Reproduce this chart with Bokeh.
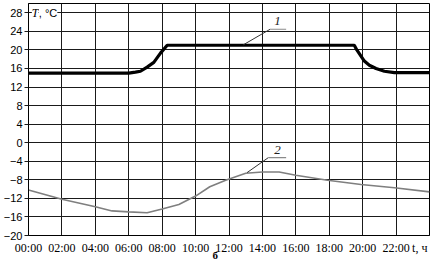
from bokeh.plotting import figure
from bokeh.models import FixedTicker, Label, Range1d
from bokeh.embed import file_html
from bokeh.resources import INLINE

# ---- data ----
hours1 = [0, 6.0, 6.4, 6.7, 7.1, 7.5, 7.9, 8.3, 19.5, 19.65, 19.8, 20.1, 20.4, 20.8, 21.3, 21.9, 24]
temp1 = [15, 15, 15.2, 15.4, 16.3, 17.3, 19.3, 21, 21, 20, 19.2, 17.6, 16.7, 16, 15.4, 15.1, 15.1]

hours2 = [0, 2, 4, 5, 6, 7.1, 8, 9, 10, 10.85, 11.8, 13, 14, 15, 16, 17.9, 19.9, 21.9, 24]
temp2 = [-10.2, -12.2, -13.8, -14.7, -14.9, -15.1, -14.3, -13.3, -11.5, -9.5, -8.1, -6.6,
         -6.3, -6.3, -7.0, -8.1, -9.0, -9.7, -10.6]

x_ticks = [0, 2, 4, 6, 8, 10, 12, 14, 16, 18, 20, 22]
x_tick_labels = ["00:00", "02:00", "04:00", "06:00", "08:00", "10:00", "12:00",
                 "14:00", "16:00", "18:00", "20:00", "22:00"]
x_unit_pos = 23.42
x_unit_label = "t, ч"
y_ticks = [-20, -16, -12, -8, -4, 0, 4, 8, 12, 16, 20, 24, 28]
y_unit_label = ", °C"
panel_letter = "б"

# leader lines for curve labels
lead1_x = [12.86, 14.46, 15.42]
lead1_y = [21.1, 24.45, 24.45]
lead2_x = [13.08, 14.36, 15.42]
lead2_y = [-6.45, -3.2, -3.2]

p = figure(width=448, height=264, output_backend="svg", toolbar_location=None,
           x_range=Range1d(0, 24), y_range=Range1d(-20, 30),
           min_border_left=26, min_border_right=19, min_border_top=3, min_border_bottom=29)
p.background_fill_color = "white"
p.border_fill_color = "white"
p.outline_line_color = "black"
p.outline_line_width = 1
p.outline_line_alpha = 1

axis_ticks = x_ticks + [x_unit_pos]
overrides = {t: l for t, l in zip(x_ticks, x_tick_labels)}
overrides[x_unit_pos] = x_unit_label
p.xaxis.ticker = FixedTicker(ticks=axis_ticks)
p.xaxis.major_label_overrides = overrides
p.yaxis.ticker = FixedTicker(ticks=y_ticks)
p.xgrid.ticker = FixedTicker(ticks=x_ticks)
p.ygrid.ticker = FixedTicker(ticks=y_ticks)

for g in (p.xgrid, p.ygrid):
    g.grid_line_color = "#1a1a1a"
    g.grid_line_width = 1
    g.grid_line_alpha = 1

p.xaxis.major_label_text_font = "Liberation Serif"
p.xaxis.major_label_text_font_size = "12px"
p.xaxis.major_label_text_color = "black"
p.xaxis.major_label_standoff = 5
p.xaxis.major_tick_out = 0
p.xaxis.major_tick_in = 0
p.xaxis.minor_tick_out = 0
p.xaxis.minor_tick_in = 0
p.xaxis.axis_line_color = "black"
p.xaxis.axis_label = panel_letter + "\u00a0" * 10
p.xaxis.axis_label_text_font = "Liberation Serif"
p.xaxis.axis_label_text_font_style = "bold"
p.xaxis.axis_label_text_font_size = "11px"
p.xaxis.axis_label_text_color = "black"
p.xaxis.axis_label_standoff = -9

p.yaxis.major_label_text_font = "Liberation Sans"
p.yaxis.major_label_text_font_size = "11px"
p.yaxis.major_label_text_color = "black"
p.yaxis.major_label_standoff = 2
p.yaxis.major_tick_out = 4
p.yaxis.major_tick_in = 0
p.yaxis.major_tick_line_color = "#1a1a1a"
p.yaxis.minor_tick_out = 0
p.yaxis.minor_tick_in = 0
p.yaxis.axis_line_color = "black"

# curves
p.line(hours2, temp2, line_color="#7f7f7f", line_width=1.6)
p.line(hours1, temp1, line_color="black", line_width=3.2)

# leaders
p.line(lead1_x[:2], lead1_y[:2], line_color="#333333", line_width=1)
p.line(lead1_x[1:], lead1_y[1:], line_color="#8a8a8a", line_width=1.2)
p.line(lead2_x[:2], lead2_y[:2], line_color="#333333", line_width=1)
p.line(lead2_x[1:], lead2_y[1:], line_color="#8a8a8a", line_width=1.2)

p.add_layout(Label(x=14.9, y=26.3, text="1", text_font="Liberation Serif",
                   text_font_style="italic", text_font_size="13px", text_align="center",
                   text_baseline="middle", text_color="#222222"))
p.add_layout(Label(x=14.9, y=-1.6, text="2", text_font="Liberation Serif",
                   text_font_style="italic", text_font_size="13px", text_align="center",
                   text_baseline="middle", text_color="#222222"))

# y axis title inside the frame
p.add_layout(Label(x=0.2, y=28, text="T", text_font="Liberation Serif",
                   text_font_style="italic", text_font_size="12px", text_align="left",
                   text_baseline="middle", text_color="black",
                   background_fill_color="white"))
p.add_layout(Label(x=0.62, y=28, text=y_unit_label, text_font="Liberation Sans",
                   text_font_size="11px", text_align="left",
                   text_baseline="middle", text_color="black",
                   background_fill_color="white"))

open("out.html", "w").write(file_html(p, INLINE))
